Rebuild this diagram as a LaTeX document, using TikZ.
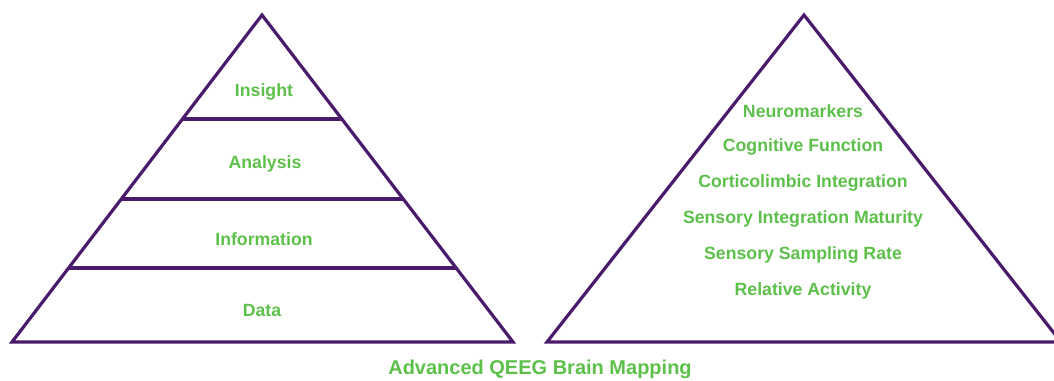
\documentclass[tikz,border=0pt]{standalone}
\usepackage{fontspec}
\setmainfont{Liberation Sans}
\usetikzlibrary{calc}
\definecolor{pyr}{HTML}{4A1A6B}
\definecolor{lbl}{HTML}{5CC04A}
\tikzset{
  edge/.style={draw=pyr, line width=3.2pt, line join=miter},
  lab/.style={text=lbl, font=\fontsize{17.7}{20}\selectfont\bfseries, inner sep=0pt, anchor=center},
  ttl/.style={text=lbl, font=\fontsize{20}{22}\selectfont\bfseries, inner sep=0pt, anchor=center}
}
\begin{document}
\begin{tikzpicture}[x=1pt,y=-1pt]
\useasboundingbox (0,0) rectangle (1054,380);
\clip (0,0) rectangle (1054,380);
% left pyramid
\coordinate (LA) at (262,15);
\coordinate (LL) at (12,342);
\coordinate (LR) at (513,342);
\draw[edge] (LA) -- (LR) -- (LL) -- cycle;
\draw[edge] ($(LA)!0.318!(LL)$) -- ($(LA)!0.318!(LR)$);
\draw[edge] ($(LA)!0.5627!(LL)$) -- ($(LA)!0.5627!(LR)$);
\draw[edge] ($(LA)!0.7737!(LL)$) -- ($(LA)!0.7737!(LR)$);
\node[lab] (insight) at (264,92) {Insight};
\node[lab] (analysis) at (265,164) {Analysis};
\node[lab] (information) at (264,239) {Information};
\node[lab] (data) at (262,310) {Data};
% right pyramid
\coordinate (RA) at (804,15);
\coordinate (RL) at (547,342);
\coordinate (RR) at (1061,342);
\draw[edge] (RA) -- (RR) -- (RL) -- cycle;
\node[lab] (n1) at (803,111) {Neuromarkers};
\node[lab] (n2) at (803,147) {Cognitive Function};
\node[lab] (n3) at (803,183) {Corticolimbic Integration};
\node[lab] (n4) at (803,219) {Sensory Integration Maturity};
\node[lab] (n5) at (803,255) {Sensory Sampling Rate};
\node[lab] (n6) at (803,291) {Relative Activity};
% title
\node[ttl] (title) at (540,369) {Advanced QEEG Brain Mapping};
\end{tikzpicture}
\end{document}
